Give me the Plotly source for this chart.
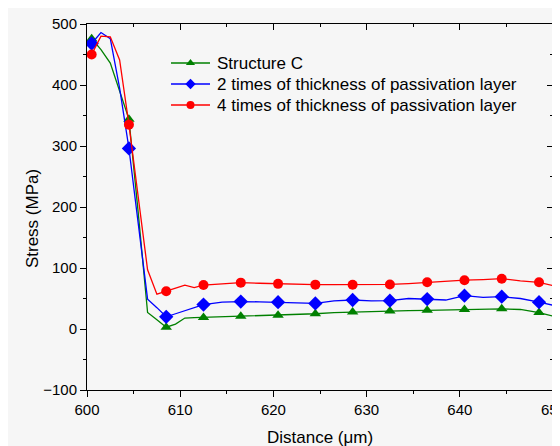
import plotly.graph_objects as go

distance = [600.5, 601.5, 602.5, 603.5, 604.5, 605.5, 606.5, 607.5, 608.5, 609.5,
            610.5, 611.5, 612.5, 614.5, 616.5, 618.5, 620.5, 622.5, 624.5, 626.5,
            628.5, 630.5, 632.5, 634.5, 636.5, 638.5, 640.5, 642.5, 644.5, 646.5,
            648.5, 650.0]

structure_c = [476, 458, 436, 390, 344, 190, 27, 15, 3, 8,
               18, 18.5, 19, 20, 21, 22, 22.5, 23.5, 25, 27,
               28, 28.5, 29.5, 30, 30.6, 31.5, 32, 32.5, 33, 32,
               27, 21]

times2 = [468, 486, 476, 395, 296, 175, 49, 35, 20, 25,
          30, 35, 40, 44, 45, 44.5, 44, 43, 42, 46,
          47.5, 46, 46.5, 50, 49, 47.5, 54.6, 52, 53, 50,
          44, 39]

times4 = [450, 480, 479, 441, 335, 216, 97, 57, 62, 66,
          72, 68, 72, 74, 76, 75, 74, 73.3, 72.7, 72.7,
          72.5, 73, 73, 74.5, 76.5, 78, 80, 81, 82.5, 79,
          76.5, 71]

marker_x = [600.5, 604.5, 608.5, 612.5, 616.5, 620.5, 624.5, 628.5, 632.5,
            636.5, 640.5, 644.5, 648.5]

x_tick_values = [600, 610, 620, 630, 640, 650]

series_names = ["Structure C",
                "2 times of thickness of passivation layer",
                "4 times of thickness of passivation layer"]
series_values = [structure_c, times2, times4]
colors = ["#008000", "#0000ff", "#ff0000"]
symbols = ["triangle-up", "diamond", "circle"]
msizes = [10, 11, 10]

FONT = "Arial, Liberation Sans, sans-serif"

# plot area in page pixels (page has an 8px body margin)
PL, PR, PT, PB = 87, 553, 24, 390

fig = go.Figure()
for name, vals, col, sym, ms in zip(series_names, series_values, colors, symbols, msizes):
    fig.add_trace(go.Scatter(x=distance, y=vals, mode="lines",
                             line=dict(color=col, width=1.3), showlegend=False,
                             hoverinfo="skip"))
    mx = [d for d in distance if d in marker_x]
    my = [v for d, v in zip(distance, vals) if d in marker_x]
    fig.add_trace(go.Scatter(x=mx, y=my, mode="markers", name=name,
                             marker=dict(color=col, symbol=sym, size=ms, line=dict(width=0)),
                             showlegend=False))

# dummy for mirror axes
fig.add_trace(go.Scatter(x=[None], y=[None], xaxis="x2", yaxis="y2", showlegend=False))

# manual legend on a hidden pixel-coordinate overlay
leg_rows = [63, 84, 105]
leg_x0, leg_x1, leg_text_x = 171, 210, 215
shapes = []
annotations = []
for name, col, sym, ry in zip(series_names, colors, symbols, leg_rows):
    shapes.append(dict(type="line", xref="x3", yref="y3", x0=leg_x0, x1=leg_x1,
                       y0=ry, y1=ry, line=dict(color=col, width=1.3)))
    fig.add_trace(go.Scatter(x=[(leg_x0 + leg_x1) / 2], y=[ry], xaxis="x3", yaxis="y3",
                             mode="markers", showlegend=False, hoverinfo="skip",
                             marker=dict(color=col, symbol=sym, size=8, line=dict(width=0))))
    annotations.append(dict(text=name, xref="x3", yref="y3", x=leg_text_x, y=ry,
                            xanchor="left", yanchor="middle", showarrow=False,
                            font=dict(family=FONT, size=17, color="black")))

axis_common = dict(showline=True, linecolor="black", linewidth=1, showgrid=False,
                   zeroline=False, ticklen=6, tickwidth=1, tickcolor="black",
                   tickfont=dict(family=FONT, size=15, color="black"))
axis_plain = {k: v for k, v in axis_common.items() if k != "tickfont"}

# last x tick label (clipped at the page edge like the original)
annotations.append(dict(text=str(x_tick_values[-1]), xref="x", yref="paper",
                        x=x_tick_values[-1], y=0, xanchor="center", yanchor="middle",
                        yshift=-19, showarrow=False,
                        font=dict(family=FONT, size=15, color="black")))

annotations += [
    dict(text="Distance (\u03bcm)", xref="paper", yref="paper", x=0.5, y=0,
         xanchor="center", yanchor="middle", showarrow=False, yshift=-47,
         font=dict(family=FONT, size=17, color="black")),
    dict(text="Stress (MPa)", xref="paper", yref="paper", x=0, y=0.467,
         xanchor="center", yanchor="middle", textangle=-90, showarrow=False,
         xshift=-55, font=dict(family=FONT, size=17, color="black")),
]

fig.update_layout(
    width=552, height=438,
    margin=dict(l=PL - 8, r=560 - PR, t=PT - 8, b=446 - PB),
    paper_bgcolor="#f6f6f6", plot_bgcolor="rgba(0,0,0,0)",
    showlegend=False,
    xaxis=dict(range=[600, 650], tickmode="array", tickvals=x_tick_values[:-1],
               ticks="outside",
               minor=dict(dtick=5, tick0=600, ticks="outside", ticklen=3, tickcolor="black"),
               **axis_common),
    yaxis=dict(range=[-100, 500], dtick=100, tick0=0, ticks="outside",
               minor=dict(dtick=50, ticks="outside", ticklen=3, tickcolor="black"),
               **axis_common),
    xaxis2=dict(range=[600, 650], overlaying="x", side="top", anchor="y",
                dtick=10, tick0=600, ticks="inside", showticklabels=False,
                minor=dict(dtick=5, ticks="inside", ticklen=3, tickcolor="black"),
                **axis_plain),
    yaxis2=dict(range=[-100, 500], overlaying="y", side="right", anchor="x",
                dtick=100, tick0=0, ticks="inside", showticklabels=False,
                minor=dict(dtick=50, ticks="inside", ticklen=3, tickcolor="black"),
                **axis_plain),
    xaxis3=dict(range=[PL, PR], domain=[0, 1], anchor="y3", visible=False),
    yaxis3=dict(range=[PB, PT], domain=[0, 1], anchor="x3", visible=False),
    shapes=shapes,
    annotations=annotations,
)

fig.write_html("out.html")
